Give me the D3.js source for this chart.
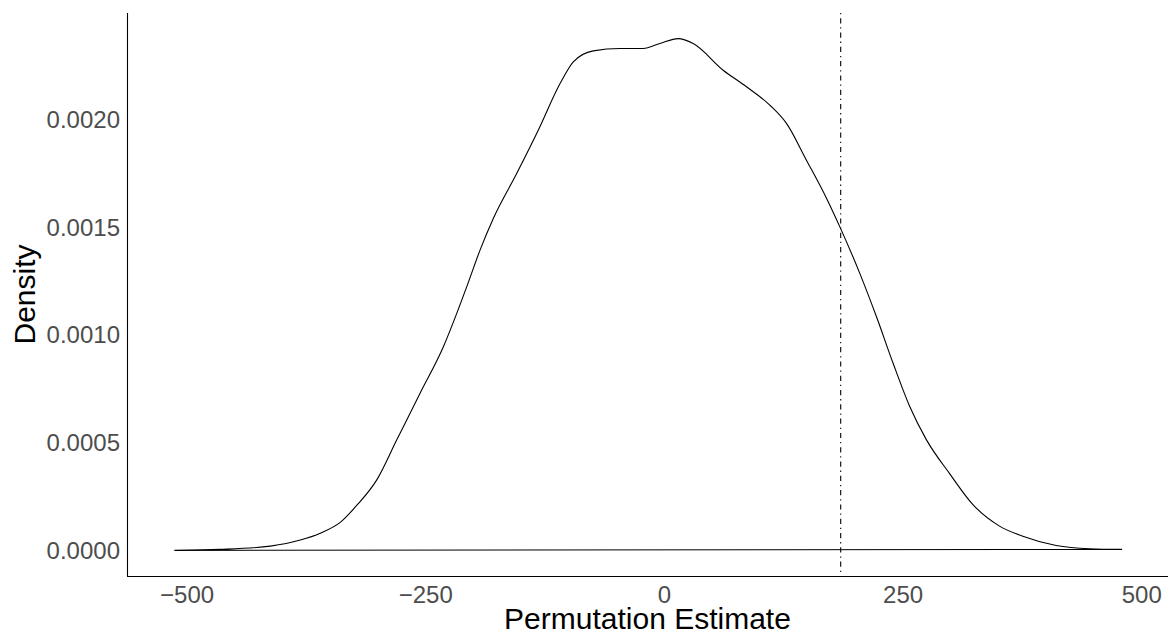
<!DOCTYPE html>
<html>
<head>
<meta charset="utf-8">
<script src="https://cdn.jsdelivr.net/npm/d3@7"></script>
<style>
  body { margin: 0; background: #fff; }
  svg { display: block; font-family: "Liberation Sans", Arial, Helvetica, sans-serif; }
</style>
</head>
<body>
<svg id="chart" width="1168" height="635"></svg>
<script>
// permutation estimates (x) and their density (y)
var estimate = [-512.8, -464.6, -412.3, -380.9, -360.0, -339.1, -321.6, -300.6, -279.7, -255.3,
  -230.9, -216.9, -206.5, -192.5, -178.6, -154.1, -131.5, -108.8, -94.9, -74.0, -46.0, -21.7,
  -4.2, 15.0, 30.7, 62.1, 86.5, 110.9, 128.4, 149.3, 170.3, 184.2, 205.1, 222.6, 240.0, 257.4,
  274.9, 299.3, 323.7, 351.6, 376.0, 410.9, 445.8, 480.0];
var density = [0.0014, 0.046, 0.20, 0.48, 0.80, 1.30, 2.10, 3.29, 5.15, 7.32,
  9.48, 11.03, 12.26, 13.97, 15.44, 17.53, 19.54, 21.70, 22.71, 23.22, 23.33, 23.33,
  23.56, 23.79, 23.56, 22.32, 21.55, 20.70, 19.85, 18.14, 16.37, 15.05, 12.89, 10.87, 8.71, 6.70,
  5.15, 3.57, 2.13, 1.13, 0.66, 0.23, 0.08, 0.05].map(function(d){ return d * 1e-4; });
var observed = 185.2; // dashed reference line
var xTicks = [-500, -250, 0, 250, 500];
var yTicks = [0, 0.0005, 0.001, 0.0015, 0.002];

var svg = d3.select("#chart");
var pLeft = 127, pRight = 1169.5, pTop = 13, pBottom = 576;

// ggplot-like 5% expansion
function expand(ext) {
  var pad = (ext[1] - ext[0]) * 0.05;
  return [ext[0] - pad, ext[1] + pad];
}
var x = d3.scaleLinear().domain(expand(d3.extent(estimate))).range([pLeft, pRight]);
var y = d3.scaleLinear().domain(expand([0, d3.max(density)])).range([pBottom, pTop]);

var points = estimate.map(function(v, i){ return [v, density[i]]; });

var line = d3.line()
  .x(function(d){ return x(d[0]); })
  .y(function(d){ return y(d[1]); })
  .curve(d3.curveMonotoneX);

// density outline, closed back along the baseline
svg.append("path")
  .attr("d", line(points) + "Z")
  .attr("fill", "none")
  .attr("stroke", "#000")
  .attr("stroke-width", 1.1);

svg.append("line")
  .attr("x1", x(observed)).attr("x2", x(observed))
  .attr("y1", pTop).attr("y2", pBottom)
  .attr("stroke", "#000")
  .attr("stroke-width", 1.1)
  .attr("stroke-dasharray", "1.3,3.9,5.2,3.9");

// axes (no ticks, like theme_classic with ticks off)
var xAxis = svg.append("g").attr("transform", "translate(0," + pBottom + ")")
  .call(d3.axisBottom(x).tickValues(xTicks).tickSize(0).tickPadding(10)
    .tickFormat(function(d){ return d < 0 ? "\u2212" + Math.abs(d) : d; }));
xAxis.select(".domain").attr("d", "M" + pLeft + ",0.5H" + 1168).attr("stroke", "#000").attr("stroke-width", 1.1);
xAxis.selectAll("text").attr("font-size", 24).attr("fill", "#4d4d4d");

var yAxis = svg.append("g").attr("transform", "translate(" + pLeft + ",0)")
  .call(d3.axisLeft(y).tickValues(yTicks).tickSize(0).tickPadding(7).tickFormat(d3.format(".4f")));
yAxis.select(".domain").attr("d", "M0.5," + pTop + "V" + pBottom).attr("stroke", "#000").attr("stroke-width", 1.1);
yAxis.selectAll("text").attr("font-size", 24).attr("fill", "#4d4d4d");
svg.selectAll("g").attr("font-family", null);

svg.append("text")
  .attr("x", (pLeft + 1168) / 2).attr("y", 629)
  .attr("text-anchor", "middle")
  .attr("font-size", 30)
  .text("Permutation Estimate");

svg.append("text")
  .attr("transform", "translate(35," + (pTop + pBottom) / 2 + ") rotate(-90)")
  .attr("text-anchor", "middle")
  .attr("font-size", 30)
  .text("Density");
</script>
</body>
</html>
